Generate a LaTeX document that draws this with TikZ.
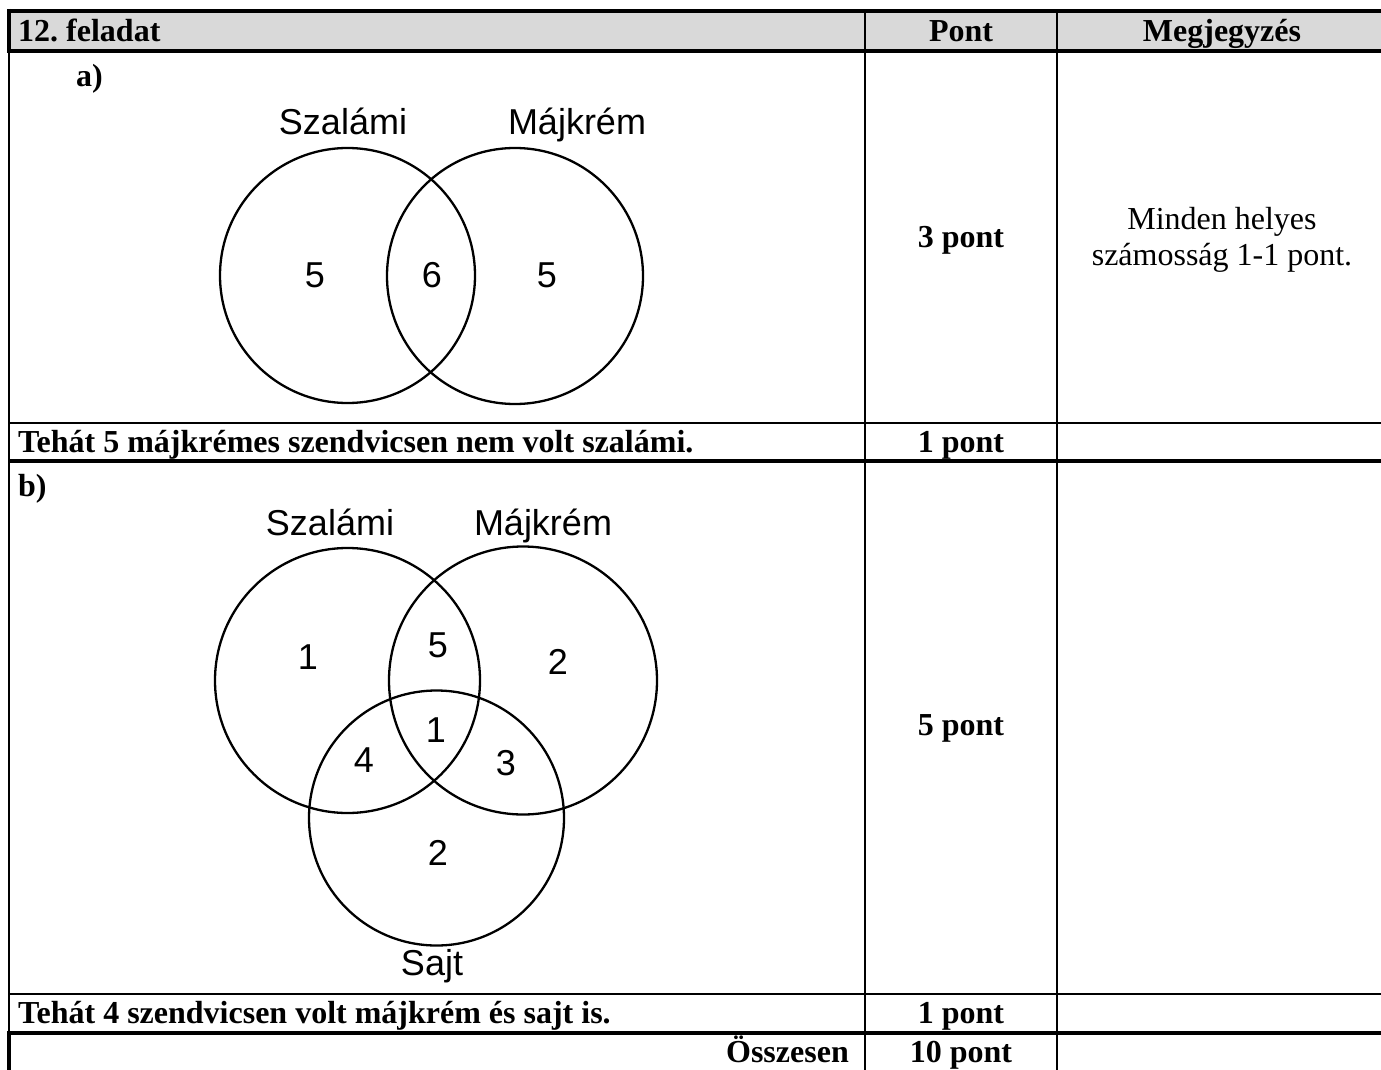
\documentclass[tikz,border=0pt]{standalone}
\usepackage{fontspec}
\setmainfont{Liberation Serif}
\newfontfamily\arialf{Liberation Sans}
\definecolor{hdrgray}{HTML}{D9D9D9}
\frenchspacing
\begin{document}
\frenchspacing
\begin{tikzpicture}[x=1pt,y=-1pt,
  thinrule/.style={line width=2pt},
  thickrule/.style={line width=4.5pt},
  venn/.style={circle, draw, line width=2.3pt, inner sep=0pt, outer sep=0pt},
  vlabel/.style={font=\arialf\fontsize{36}{40}\selectfont, inner sep=0pt},
  tb/.style={font=\bfseries\fontsize{32}{38}\selectfont, inner sep=0pt},
  tr/.style={font=\fontsize{32}{36}\selectfont, align=center, inner sep=0pt},
]
\useasboundingbox (0,0) rectangle (1381,1070);
% header fill
\fill[hdrgray] (9,11) rectangle (1381,51);
% horizontal rules
\draw[thickrule] (7,11) -- (1381,11);
\draw[thickrule] (7,51) -- (1381,51);
\draw[thinrule] (9,423) -- (1381,423);
\draw[thickrule] (9,461) -- (1381,461);
\draw[thinrule] (9,994) -- (1381,994);
\draw[thickrule] (7,1033) -- (1381,1033);
% vertical rules
\draw[thickrule] (9,9) -- (9,51);
\draw[thinrule] (9,51) -- (9,1033);
\draw[thickrule] (9,1033) -- (9,1070);
\draw[thinrule] (865,11) -- (865,1070);
\draw[thinrule] (1057,11) -- (1057,1070);
% header
\node[tb, anchor=base west] (h1) at (18,42) {12. feladat};
\node[tb, anchor=base] (h2) at (961,42) {Pont};
\node[tb, anchor=base] (h3) at (1222,42) {Megjegyzés};
% part a
\node[tb, anchor=base west] (la) at (76,87) {a)};
\node[venn, minimum size=255pt] (aS) at (347.5,275.5) {};
\node[venn, minimum size=256pt] (aM) at (515,276) {};
\node[vlabel, anchor=base] (aSl) at (343,135) {Szalámi};
\node[vlabel, anchor=base] (aMl) at (577,135) {Májkrém};
\node[vlabel] (a1) at (315,275) {5};
\node[vlabel] (a2) at (432,275) {6};
\node[vlabel] (a3) at (547,275) {5};
\node[tb] (pa) at (961,240) {3 pont};
\node[tr] (ma) at (1222,240) {Minden helyes\\számosság 1-1 pont.};
% row Tehát 5
\node[tb, anchor=base west] (t5) at (18,452) {Tehát 5 májkrémes szendvicsen nem volt szalámi.};
\node[tb, anchor=base] (p5) at (961,452) {1 pont};
% part b
\node[tb, anchor=base west] (lb) at (18,496) {b)};
\node[venn, minimum size=265pt] (bS) at (347.5,680.5) {};
\node[venn, minimum size=268pt] (bM) at (523,680.5) {};
\node[venn, minimum size=255pt] (bJ) at (436.5,818) {};
\node[vlabel, anchor=base] (bSl) at (330,535) {Szalámi};
\node[vlabel, anchor=base] (bMl) at (543,535) {Májkrém};
\node[vlabel, anchor=base] (bJl) at (432,975) {Sajt};
\node[vlabel] (b1) at (308,657) {1};
\node[vlabel] (b2) at (438,645) {5};
\node[vlabel] (b3) at (558,662) {2};
\node[vlabel] (b4) at (436,730) {1};
\node[vlabel] (b5) at (364,760) {4};
\node[vlabel] (b6) at (506,763) {3};
\node[vlabel] (b7) at (438,853) {2};
\node[tb] (pb) at (961,728) {5 pont};
% row Tehát 4
\node[tb, anchor=base west] (t4) at (18,1023) {Tehát 4 szendvicsen volt májkrém és sajt is.};
\node[tb, anchor=base] (p4) at (961,1023) {1 pont};
% total row
\node[tb, anchor=base east] (os) at (849,1062) {Összesen};
\node[tb, anchor=base] (pt) at (961,1062) {10 pont};
\end{tikzpicture}
\end{document}
